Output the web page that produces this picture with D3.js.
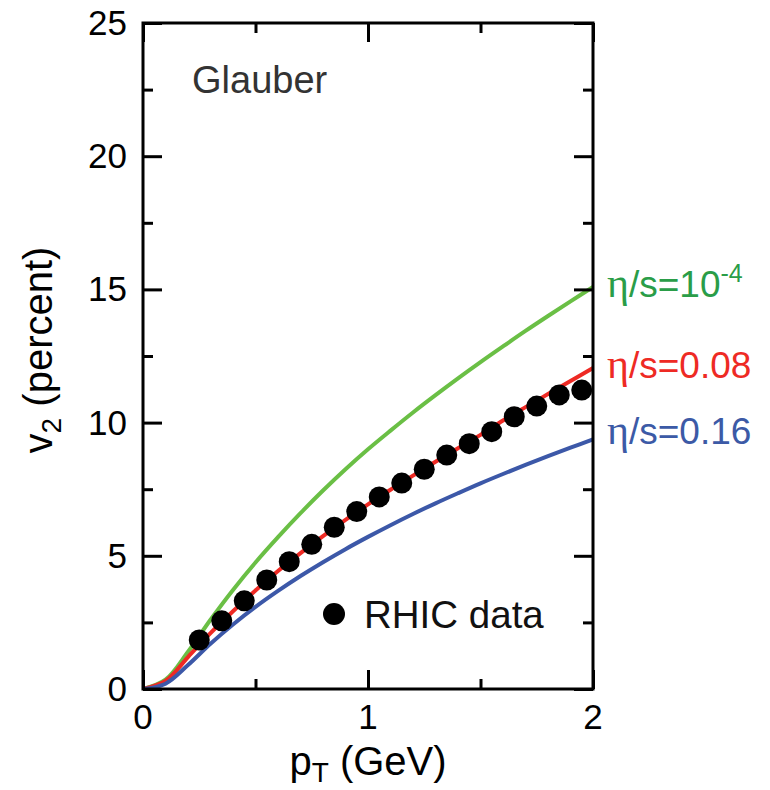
<!DOCTYPE html>
<html>
<head>
<meta charset="utf-8">
<script src="https://cdn.jsdelivr.net/npm/d3@7"></script>
<style>
  body { margin: 0; background: #fff; }
  svg text { font-family: "Liberation Sans", Arial, Helvetica, sans-serif; }
</style>
</head>
<body>
<div id="chart"></div>
<script>
// model curves, sampled every 0.1 GeV
const ptGrid = [0, 0.1, 0.2, 0.3, 0.4, 0.5, 0.6, 0.7, 0.8, 0.9, 1.0,
  1.1, 1.2, 1.3, 1.4, 1.5, 1.6, 1.7, 1.8, 1.9, 2.0];
const v2Ideal = [0, 0.35, 1.4, 2.6, 3.72, 4.75, 5.7, 6.6, 7.45, 8.25, 9.0,
  9.7, 10.38, 11.03, 11.66, 12.27, 12.86, 13.44, 14.0, 14.55, 15.09];
const v2Mid = [0, 0.3, 1.2, 2.1, 2.92, 3.7, 4.43, 5.1, 5.74, 6.35, 6.93,
  7.48, 8.01, 8.53, 9.04, 9.54, 10.08, 10.58, 11.07, 11.56, 12.05];
const v2High = [0, 0.2, 0.9, 1.7, 2.42, 3.08, 3.68, 4.24, 4.76, 5.25, 5.71,
  6.15, 6.57, 6.97, 7.35, 7.72, 8.07, 8.41, 8.74, 9.06, 9.37];

// RHIC points
const dataPt = [0.25, 0.35, 0.45, 0.55, 0.65, 0.75, 0.85, 0.95, 1.05, 1.15,
  1.25, 1.35, 1.45, 1.55, 1.65, 1.75, 1.85, 1.95];
const dataV2 = [1.84, 2.56, 3.31, 4.09, 4.78, 5.43, 6.07, 6.66, 7.21, 7.73,
  8.25, 8.78, 9.21, 9.66, 10.22, 10.62, 11.04, 11.22];

const xTicks = [0, 1, 2];
const yTicks = [0, 5, 10, 15, 20, 25];

const W = 770, H = 790;
const m = { left: 143, right: 177, top: 23, bottom: 101 };

const svg = d3.select('#chart').append('svg')
  .attr('width', W)
  .attr('height', H);

const x = d3.scaleLinear().domain([0, 2]).range([m.left, W - m.right]);
const y = d3.scaleLinear().domain([0, 25]).range([H - m.bottom, m.top]);

const plot = svg.append('g');

// curves
const series = [
  { vals: v2Ideal, color: '#6abf45' },
  { vals: v2Mid, color: '#ee2a24' },
  { vals: v2High, color: '#3c58a8' }
];
const line = d3.line()
  .x((d) => x(d[0]))
  .y((d) => y(d[1]))
  .curve(d3.curveCatmullRom.alpha(0.5));

series.forEach((s) => {
  plot.append('path')
    .attr('d', line(ptGrid.map((p, i) => [p, s.vals[i]])))
    .attr('fill', 'none')
    .attr('stroke', s.color)
    .attr('stroke-width', 4);
});

// data points
plot.selectAll('circle.pt')
  .data(dataPt.map((p, i) => [p, dataV2[i]]))
  .enter().append('circle')
    .attr('class', 'pt')
    .attr('cx', (d) => x(d[0]))
    .attr('cy', (d) => y(d[1]))
    .attr('r', 10.5)
    .attr('fill', '#000');

// frame with inward ticks on all four sides
const yMinor = d3.range(0, 25.01, 2.5);
const xMinor = d3.range(0, 2.01, 0.5);

const axes = [
  { g: d3.axisBottom(x), t: `translate(0,${y(0)})` },
  { g: d3.axisTop(x), t: `translate(0,${y(25)})` },
  { g: d3.axisLeft(y), t: `translate(${x(0)},0)` },
  { g: d3.axisRight(y), t: `translate(${x(2)},0)` }
];
axes.forEach((a, i) => {
  const isX = i < 2;
  const vals = isX ? xMinor : yMinor;
  const majorStep = isX ? 1 : 5;
  const ax = a.g.tickValues(vals).tickFormat('').tickSizeOuter(0).tickSizeInner(-19);
  const g = svg.append('g').attr('transform', a.t).call(ax);
  g.selectAll('.tick line')
    .attr(isX ? 'y2' : 'x2', function (d) {
      const len = Math.abs(d / majorStep - Math.round(d / majorStep)) < 1e-6 ? 19 : 10;
      const cur = +d3.select(this).attr(isX ? 'y2' : 'x2');
      return Math.sign(cur) * len;
    })
    .attr('stroke', '#000')
    .attr('stroke-width', 3);
  g.select('.domain').remove();
  g.selectAll('text').remove();
});

svg.append('rect')
  .attr('x', x(0)).attr('y', y(25))
  .attr('width', x(2) - x(0)).attr('height', y(0) - y(25))
  .attr('fill', 'none').attr('stroke', '#000').attr('stroke-width', 3);

// tick labels
svg.selectAll('text.xt')
  .data(xTicks)
  .enter().append('text')
    .attr('x', (d) => x(d))
    .attr('y', y(0) + 40)
    .attr('text-anchor', 'middle')
    .attr('font-size', 35)
    .text((d) => d);

svg.selectAll('text.yt')
  .data(yTicks)
  .enter().append('text')
    .attr('x', x(0) - 16)
    .attr('y', (d) => y(d) + 12)
    .attr('text-anchor', 'end')
    .attr('font-size', 35)
    .text((d) => d);

// axis titles
const xt = svg.append('text')
  .attr('x', (x(0) + x(2)) / 2)
  .attr('y', 775)
  .attr('text-anchor', 'middle')
  .attr('font-size', 40);
xt.append('tspan').text('p');
xt.append('tspan').attr('font-size', 28).attr('dy', 7).text('T');
xt.append('tspan').attr('dy', -7).text(' (GeV)');

const yt = svg.append('text')
  .attr('transform', `translate(52,${(y(0) + y(25)) / 2 - 6}) rotate(-90)`)
  .attr('text-anchor', 'middle')
  .attr('font-size', 40);
yt.append('tspan').text('v');
yt.append('tspan').attr('font-size', 28).attr('dy', 9).text('2');
yt.append('tspan').attr('dy', -9).text(' (percent)');

// annotations
svg.append('text')
  .attr('x', 192).attr('y', 93)
  .attr('font-size', 38)
  .attr('fill', '#333')
  .text('Glauber');

svg.append('circle')
  .attr('cx', 334).attr('cy', 614).attr('r', 11).attr('fill', '#000');
svg.append('text')
  .attr('x', 364).attr('y', 628)
  .attr('font-size', 38.5)
  .attr('fill', '#111')
  .text('RHIC data');

// curve labels
const labels = [
  { txt: '10', sup: '-4', yv: 297, color: '#2a9d48' },
  { txt: '0.08', sup: null, yv: 378, color: '#ee2a24' },
  { txt: '0.16', sup: null, yv: 444, color: '#3c5aa6' }
];
labels.forEach((l) => {
  const t = svg.append('text')
    .attr('x', 607).attr('y', l.yv)
    .attr('font-size', 37)
    .attr('fill', l.color);
  t.append('tspan').attr('font-family', '"Liberation Serif", "DejaVu Serif", serif').attr('font-size', 42).text('η');
  t.append('tspan').text('/s=' + l.txt);
  if (l.sup) {
    t.append('tspan').attr('font-size', 25).attr('dy', -15).text(l.sup);
  }
});
</script>
</body>
</html>
